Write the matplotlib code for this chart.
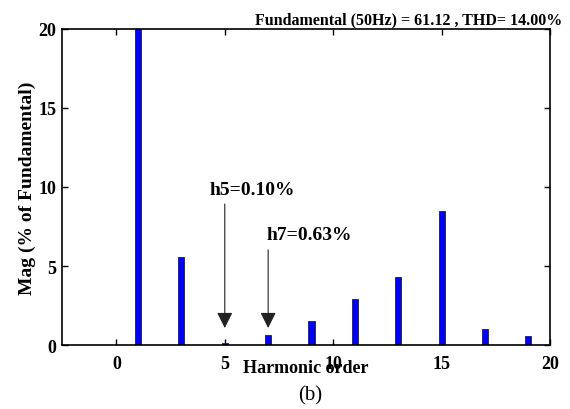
import matplotlib
matplotlib.use('Agg')
import matplotlib.pyplot as plt

# Harmonic spectrum (% of fundamental); fundamental is 100 % and clipped by ylim
orders = [1, 3, 5, 7, 9, 11, 13, 15, 17, 19]
mags = [100.0, 5.6, 0.10, 0.63, 1.5, 2.9, 4.3, 8.5, 1.0, 0.6]
xticks = [0, 5, 10, 15, 20]
yticks = [0, 5, 10, 15, 20]
title = 'Fundamental (50Hz) = 61.12 , THD= 14.00%'

plt.rcParams['font.family'] = ['Liberation Serif', 'DejaVu Serif']

fig = plt.figure(figsize=(5.7, 4.1), dpi=100)
ax = fig.add_axes((0.109, 0.156, 0.856, 0.771))

ax.bar(orders, mags, width=0.28, color='#0000ff', edgecolor='#222222', linewidth=0.6, zorder=2)

ax.set_xlim(-2.5, 20)
ax.set_ylim(0, 20)
ax.set_xticks(xticks)
ax.set_yticks(yticks)
ax.tick_params(direction='in', length=4, width=1, top=True, right=True, labelsize=13)
ax.tick_params(axis='x', pad=7)
ax.tick_params(axis='y', pad=4)
for lab in ax.get_xticklabels() + ax.get_yticklabels():
    lab.set_fontweight('bold')
for s in ax.spines.values():
    s.set_linewidth(1.2)

ax.set_title(title, fontsize=11.5, fontweight='bold', x=0.71, y=1.0, pad=4)
ax.set_ylabel('Mag (% of Fundamental)', fontsize=14, fontweight='bold', labelpad=2)
ax.set_xlabel('Harmonic order', fontsize=13, fontweight='bold', labelpad=-9)
fig.text(0.544, 0.034, '(b)', fontsize=15, ha='center', va='center')

# annotations for h5 and h7
ax.annotate('', xy=(5, 0.9), xytext=(5, 9.1),
            arrowprops=dict(arrowstyle='-|>', color='#222222', lw=0.8, mutation_scale=24))
ax.text(6.25, 9.85, 'h5=0.10%', fontsize=14, fontweight='bold', ha='center', va='center')
ax.annotate('', xy=(7, 0.9), xytext=(7, 6.2),
            arrowprops=dict(arrowstyle='-|>', color='#222222', lw=0.8, mutation_scale=24))
ax.text(8.9, 7.0, 'h7=0.63%', fontsize=14, fontweight='bold', ha='center', va='center')

fig.savefig('out.png', dpi=100)
